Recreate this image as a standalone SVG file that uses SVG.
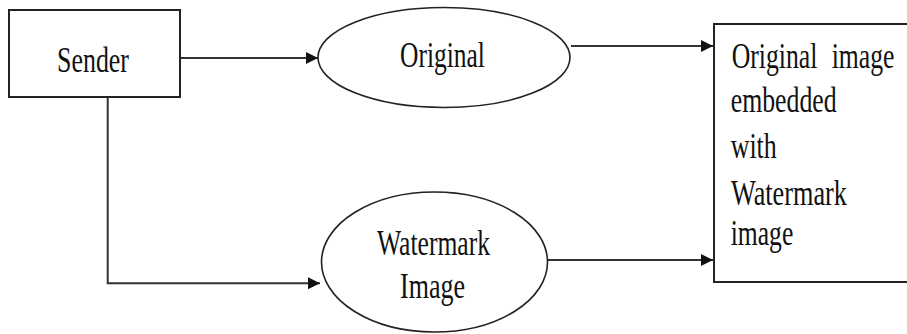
<svg xmlns="http://www.w3.org/2000/svg" width="907" height="334" viewBox="0 0 907 334">
<style>
.box{fill:#fff;stroke:#222;stroke-width:2}
.ell{fill:#fff;stroke:#222;stroke-width:1.6}
.ln{fill:none;stroke:#333;stroke-width:2}
text{font-family:"Liberation Serif","Times New Roman",serif;font-size:35px;fill:#111}
</style>
<defs>
<marker id="ah" markerUnits="userSpaceOnUse" markerWidth="14" markerHeight="14" refX="12" refY="6" orient="auto">
<path d="M0,0 L12,6 L0,12 Z" fill="#111"/>
</marker>
</defs>
<g id="connectors">
<line class="ln" x1="181" y1="58" x2="318" y2="58" marker-end="url(#ah)"/>
<line class="ln" x1="571" y1="46" x2="713" y2="46" marker-end="url(#ah)"/>
<polyline class="ln" points="107.7,97 107.7,283.3 320,283.3" marker-end="url(#ah)"/>
<line class="ln" x1="547" y1="260" x2="713" y2="260" marker-end="url(#ah)"/>
</g>
<g id="sender">
<rect class="box" x="9" y="10" width="171" height="87"/>
<text transform="translate(57 72) scale(0.741 1)">Sender</text>
</g>
<g id="original">
<ellipse class="ell" cx="444" cy="57.5" rx="126" ry="50"/>
<text transform="translate(400 67) scale(0.728 1)">Original</text>
</g>
<g id="watermark">
<ellipse class="ell" cx="434.5" cy="262" rx="113" ry="70"/>
<text transform="translate(377 255) scale(0.731 1)">Watermark</text>
<text transform="translate(400 298) scale(0.743 1)">Image</text>
</g>
<g id="result">
<rect class="box" x="714" y="24" width="200" height="258"/>
<text transform="translate(731.7 68) scale(0.735 1)"><tspan x="0">Original</tspan> <tspan x="136">image</tspan></text>
<text transform="translate(730.7 112) scale(0.737 1)">embedded</text>
<text transform="translate(730.7 158) scale(0.74 1)">with</text>
<text transform="translate(731 205) scale(0.75 1)">Watermark</text>
<text transform="translate(730.7 245) scale(0.732 1)">image</text>
</g>
</svg>
